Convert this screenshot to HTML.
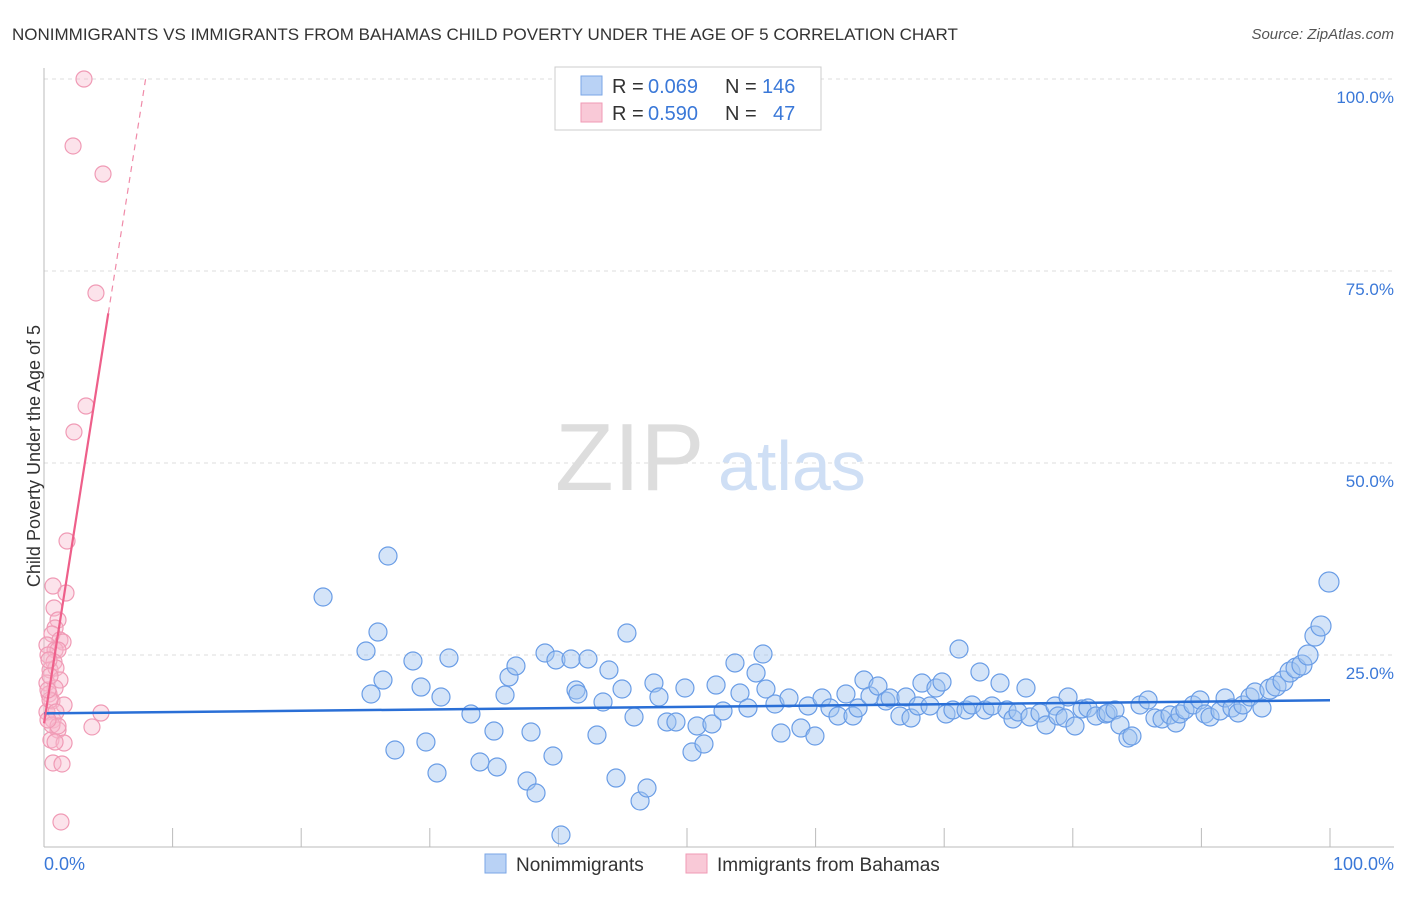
<!DOCTYPE html>
<html><head><meta charset="utf-8"><style>
body{margin:0;background:#fff;font-family:"Liberation Sans",sans-serif}
svg text{font-family:"Liberation Sans",sans-serif}
</style></head><body>
<svg width="1406" height="892">
<text x="12" y="40" font-size="17" fill="#333">NONIMMIGRANTS VS IMMIGRANTS FROM BAHAMAS CHILD POVERTY UNDER THE AGE OF 5 CORRELATION CHART</text>
<text x="1394" y="39" font-size="15" fill="#555" font-style="italic" text-anchor="end">Source: ZipAtlas.com</text>
<g id="grid"></g>
<line x1="44" y1="68" x2="44" y2="847" stroke="#bbb"/>
<line x1="44" y1="847" x2="1394" y2="847" stroke="#bbb"/>
<g id="xticks"></g>
<text transform="rotate(-90 34 456)" x="34" y="462" font-size="18" fill="#333" text-anchor="middle">Child Poverty Under the Age of 5</text>
<text x="555" y="490" font-size="96" fill="#ddd" font-family="Liberation Serif">ZIP</text>
<text x="718" y="490" font-size="70" fill="#cfdff5">atlas</text>
<g id="pts"></g>
<g id="trend"></g>
<text x="44" y="870" font-size="18" fill="#3a78d8">0.0%</text>
<text x="1394" y="870" font-size="18" fill="#3a78d8" text-anchor="end">100.0%</text>
<g>
<rect x="555" y="67" width="266" height="63" fill="#fff" stroke="#ccc"/>
<rect x="581" y="76" width="21" height="19" fill="#b9d2f5" stroke="#7aa6e6"/>
<rect x="581" y="103" width="21" height="19" fill="#f9c9d7" stroke="#f09ab5"/>
<text x="612" y="93" font-size="20" fill="#333">R =</text>
<text x="648" y="93" font-size="20" fill="#3a78d8">0.069</text>
<text x="725" y="93" font-size="20" fill="#333">N =</text>
<text x="762" y="93" font-size="20" fill="#3a78d8">146</text>
<text x="612" y="120" font-size="20" fill="#333">R =</text>
<text x="648" y="120" font-size="20" fill="#3a78d8">0.590</text>
<text x="725" y="120" font-size="20" fill="#333">N =</text>
<text x="773" y="120" font-size="20" fill="#3a78d8">47</text>
</g>
<g>
<rect x="485" y="854" width="21" height="19" fill="#b9d2f5" stroke="#7aa6e6"/>
<text x="516" y="871" font-size="19" fill="#333">Nonimmigrants</text>
<rect x="686" y="854" width="21" height="19" fill="#f9c9d7" stroke="#f09ab5"/>
<text x="717" y="871" font-size="19" fill="#333">Immigrants from Bahamas</text>
</g>
</svg>
<script>
const yTicks=[25,50,75,100];
const yTickLabels=["25.0%","50.0%","75.0%","100.0%"];
const xTicks=[0,10,20,30,40,50,60,70,80,90,100];
const bluePx=[[323,597],[388,556],[366,651],[378,632],[371,694],[383,680],[395,750],[413,661],[421,687],[426,742],[437,773],[441,697],[449,658],[471,714],[480,762],[494,731],[497,767],[505,695],[509,677],[516,666],[527,781],[531,732],[536,793],[545,653],[553,756],[556,660],[561,835],[571,659],[576,690],[578,694],[588,659],[597,735],[603,702],[609,670],[616,778],[622,689],[627,633],[634,717],[640,801],[647,788],[654,683],[659,697],[667,722],[676,722],[685,688],[692,752],[697,726],[704,744],[712,724],[716,685],[723,711],[735,663],[740,693],[748,708],[756,673],[763,654],[766,689],[775,704],[781,733],[789,698],[801,728],[808,706],[815,736],[822,698],[830,708],[838,716],[846,694],[853,716],[858,708],[864,680],[870,696],[878,686],[886,701],[890,698],[900,716],[906,697],[911,718],[918,706],[922,683],[930,706],[936,688],[942,682],[946,714],[953,710],[959,649],[966,710],[972,705],[980,672],[985,710],[992,706],[1000,683],[1007,710],[1013,719],[1018,712],[1026,688],[1030,717],[1040,713],[1046,725],[1055,706],[1058,716],[1065,718],[1068,697],[1075,726],[1082,709],[1088,708],[1096,716],[1106,714],[1108,713],[1115,710],[1120,725],[1128,738],[1132,736],[1140,705],[1148,700],[1155,718],[1162,719],[1170,715],[1176,723],[1180,714],[1185,710],[1193,705],[1200,700],[1205,714],[1210,717],[1220,711],[1225,698],[1232,708],[1238,713],[1243,705],[1250,697],[1255,692],[1262,708],[1270,689],[1276,686],[1283,681],[1290,672],[1296,668],[1302,665],[1308,655],[1315,636],[1321,626],[1329,582]];
const pinkPx=[[84,79],[73,146],[103,174],[96,293],[86,406],[74,432],[67,541],[53,586],[66,593],[54,608],[58,620],[55,628],[52,634],[60,640],[47,645],[63,642],[55,650],[58,650],[48,655],[54,662],[50,670],[56,668],[60,680],[47,683],[55,688],[49,694],[52,701],[64,705],[47,712],[101,713],[92,727],[53,720],[58,730],[51,740],[64,743],[55,742],[53,763],[62,764],[61,822],[50,700],[48,690],[50,676],[49,660],[56,712],[52,725],[58,726],[48,720]];
const blueX=bluePx.map(p=>+((p[0]-44)/12.86).toFixed(2));
const blueY=bluePx.map(p=>+((847-p[1])/7.68).toFixed(2));
const pinkX=pinkPx.map(p=>+((p[0]-44)/12.86).toFixed(2));
const pinkY=pinkPx.map(p=>+((847-p[1])/7.68).toFixed(2));
const blueTrend=[[0,17.4],[100,19.1]];
const pinkTrend=[[0,16.1],[5,69.5],[7.9,100]];
const X=v=>44+v*12.86, Y=v=>847-v*7.68;
const NS="http://www.w3.org/2000/svg";
function mk(t,a,p){const e=document.createElementNS(NS,t);for(const k in a)e.setAttribute(k,a[k]);p.appendChild(e);return e;}
const grid=document.getElementById('grid');
yTicks.forEach((v,i)=>{
 const l=mk('line',{x1:44,x2:1394,y1:Y(v),y2:Y(v),stroke:'#ddd','stroke-dasharray':'4 4'},grid);
 
 
 const t=mk('text',{x:1394,y:Y(v)+24,'font-size':17,fill:'#3a78d8','text-anchor':'end'},grid);
 t.textContent=yTickLabels[i];
 
 
});
const xt=document.getElementById('xticks');
xTicks.forEach(v=>{
 const l=mk('line',{x1:X(v),x2:X(v),y1:828,y2:847,stroke:'#bbb'},xt);
 
 
});
const pts=document.getElementById('pts');
blueX.forEach((x,i)=>{
 const c=mk('circle',{cx:X(x),cy:Y(blueY[i]),r:x>95?10:9,fill:'rgba(160,196,240,0.45)',stroke:'#6a9de6','stroke-width':1.2},pts);
 
 
});
pinkX.forEach((x,i)=>{
 const c=mk('circle',{cx:X(x),cy:Y(pinkY[i]),r:8,fill:'rgba(248,185,205,0.4)',stroke:'#f09ab5','stroke-width':1.2},pts);
 
 
});
const tr=document.getElementById('trend');
let l=mk('line',{x1:X(blueTrend[0][0]),y1:Y(blueTrend[0][1]),x2:X(blueTrend[1][0]),y2:Y(blueTrend[1][1]),stroke:'#2a6fd6','stroke-width':2.5},tr);


l=mk('line',{x1:X(pinkTrend[0][0]),y1:Y(pinkTrend[0][1]),x2:X(pinkTrend[1][0]),y2:Y(pinkTrend[1][1]),stroke:'#ee5f8a','stroke-width':2.2},tr);


l=mk('line',{x1:X(pinkTrend[1][0]),y1:Y(pinkTrend[1][1]),x2:X(pinkTrend[2][0]),y2:Y(pinkTrend[2][1]),stroke:'#f08aa8','stroke-width':1.2,'stroke-dasharray':'6 5'},tr);


</script>
</body></html>
